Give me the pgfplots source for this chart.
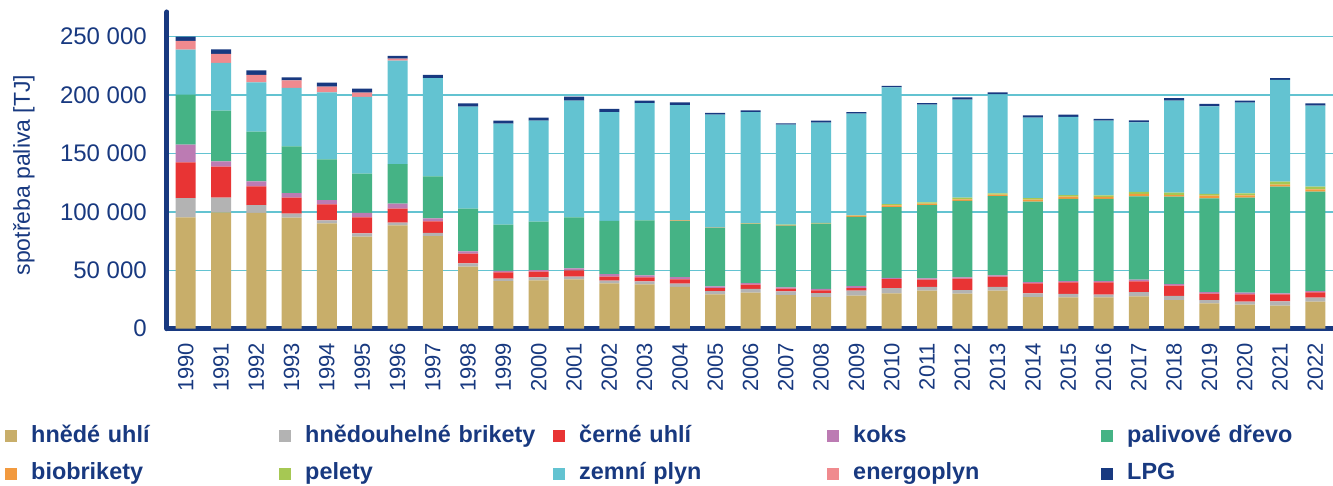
\documentclass[border=0pt]{standalone}
\usepackage{fontspec}
\setmainfont{Liberation Sans}
\usepackage{pgfplots}
\usepackage{pgfplotstable}
\pgfplotsset{compat=1.18}
\definecolor{navy}{RGB}{24,57,128}
\definecolor{cHU}{RGB}{200,174,106}
\definecolor{cHB}{RGB}{179,179,179}
\definecolor{cCU}{RGB}{232,52,52}
\definecolor{cKO}{RGB}{188,123,179}
\definecolor{cPD}{RGB}{69,179,133}
\definecolor{cBB}{RGB}{242,154,63}
\definecolor{cPE}{RGB}{166,200,83}
\definecolor{cZP}{RGB}{99,195,209}
\definecolor{cEN}{RGB}{240,138,142}
\definecolor{cLPG}{RGB}{24,57,128}
\definecolor{gridc}{RGB}{99,195,209}

\pgfplotstableread{
x yr hu hb cu ko pd bb pe zp en lpg
0 1990 95300 16500 30600 15100 42800 0 0 38500 7400 3700
1 1991 99600 12500 26600 4500 43400 0 0 40800 7700 4000
2 1992 99000 6800 16000 4300 42500 0 0 42200 6300 4000
3 1993 95000 3400 13700 4000 40000 0 0 49900 6500 2600
4 1994 90200 2500 13700 3700 34800 0 0 57400 4800 3500
5 1995 78700 2900 13700 3700 33700 0 0 65600 3700 3400
6 1996 88400 2300 12000 4300 33900 0 0 88500 1700 2300
7 1997 79300 2600 10000 2500 36000 0 0 84100 0 2600
8 1998 53100 2800 8300 2000 36500 0 0 87300 0 2900
9 1999 40800 2000 5400 1200 39600 0 0 86500 0 2500
10 2000 41400 2500 4900 1400 41400 0 0 86400 0 2600
11 2001 42200 2300 5400 1700 43700 0 0 99800 0 3500
12 2002 38800 2300 3400 2300 45400 0 0 93200 0 2600
13 2003 37900 2600 3400 1700 47100 0 0 100400 0 2000
14 2004 35700 2800 3700 2000 48000 500 0 98500 0 2500
15 2005 29400 2800 2600 1400 50000 200 0 96800 0 1400
16 2006 30800 3200 3700 1400 50500 300 300 95200 0 1500
17 2007 28800 3200 2200 1200 52800 500 400 85500 0 1100
18 2008 27100 3400 2300 1200 55900 300 300 85800 0 1700
19 2009 28200 4300 2300 1700 59100 1100 300 87000 0 1400
20 2010 30200 4600 7700 900 60700 1500 1100 99900 0 1100
21 2011 32500 3200 6200 1200 62700 1200 1100 83600 0 1400
22 2012 30000 3100 9700 1100 65400 1400 1400 83900 0 2000
23 2013 32500 3200 8800 1100 67900 1200 1100 84800 0 1700
24 2014 27100 3100 8600 1100 68800 1700 1400 68800 0 2000
25 2015 26800 2900 10000 1100 70200 2000 1400 66800 0 2000
26 2016 26800 2300 10600 1100 70200 1700 1400 63900 0 1500
27 2017 27700 3700 9100 1400 71400 2000 1700 59600 0 1700
28 2018 24500 3500 8800 1400 74800 1400 2000 78700 0 2300
29 2019 21700 2800 5500 1400 80200 2200 1500 75000 0 2000
30 2020 20500 2600 6300 1400 81300 2000 1700 77600 0 1700
31 2021 19700 3700 6000 800 91300 1700 2600 87200 0 1500
32 2022 23100 3400 4600 1100 85100 2000 2200 69400 0 2000
}\data

\begin{document}
\begin{tikzpicture}
\begin{axis}[
  set layers,
  scale only axis, width=1166pt, height=316.7pt,
  ybar stacked, bar width=20pt,
  xmin=-0.53, xmax=32.5, ymin=0, ymax=271000,
  xtick={0,...,32},
  xticklabels={1990,1991,1992,1993,1994,1995,1996,1997,1998,1999,2000,2001,2002,2003,2004,2005,2006,2007,2008,2009,2010,2011,2012,2013,2014,2015,2016,2017,2018,2019,2020,2021,2022},
  ytick={0,50000,100000,150000,200000,250000},
  yticklabels={0,50 000,100 000,150 000,200 000,250 000},
  scaled y ticks=false,
  ymajorgrids, grid style={line width=1.5pt, color=gridc},
  axis x line*=bottom, axis y line*=left,
  axis line style={line width=5pt, color=navy, line cap=round, -, /pgfplots/on layer=axis foreground},
  major tick length=0pt,
  xticklabel style={font=\fontsize{22}{26}\selectfont, text=navy, yshift=-14pt, rotate=90, anchor=east, inner sep=0pt},
  yticklabel style={font=\fontsize{24}{28}\selectfont, text=navy, xshift=-20pt, anchor=east, inner sep=0pt},
  every axis y label/.style={at={(rel axis cs:0,0.485)}, xshift=-143pt, rotate=90, anchor=center, font=\fontsize{23}{27}\selectfont, text=navy},
  ylabel={spotřeba paliva [TJ]},
  legend image code/.code={\path[#1, draw=none] (0pt,-6pt) rectangle (12pt,6pt);},
  legend cell align=left,
  legend style={at={(rel axis cs:-0.1389,-0.304)}, anchor=north west, draw=none, fill=none, inner sep=0pt,
    font=\fontsize{23.4}{28}\selectfont\bfseries, text=navy,
    /tikz/every odd column/.append style={column sep=12pt},
    /tikz/every even column/.append style={column sep=0pt},
    /tikz/row sep=15.5pt,
    nodes={text width=246pt, inner xsep=2pt, inner ysep=0pt, text height=17pt, text depth=5pt, align=left}},
  legend columns=5,
]
\addplot[fill=cHU, draw=none] table[x=x, y=hu] {\data};
\addplot[fill=cHB, draw=none] table[x=x, y=hb] {\data};
\addplot[fill=cCU, draw=none] table[x=x, y=cu] {\data};
\addplot[fill=cKO, draw=none] table[x=x, y=ko] {\data};
\addplot[fill=cPD, draw=none] table[x=x, y=pd] {\data};
\addplot[fill=cBB, draw=none] table[x=x, y=bb] {\data};
\addplot[fill=cPE, draw=none] table[x=x, y=pe] {\data};
\addplot[fill=cZP, draw=none] table[x=x, y=zp] {\data};
\addplot[fill=cEN, draw=none] table[x=x, y=en] {\data};
\addplot[fill=cLPG, draw=none] table[x=x, y=lpg] {\data};
\legend{hnědé uhlí, hnědouhelné brikety, černé uhlí, koks, palivové dřevo, biobrikety, pelety, zemní plyn, energoplyn, LPG}
\end{axis}
\pgfresetboundingbox
\useasboundingbox (-167pt,-157.3pt) rectangle (1166pt,328.7pt);
\end{tikzpicture}
\end{document}
